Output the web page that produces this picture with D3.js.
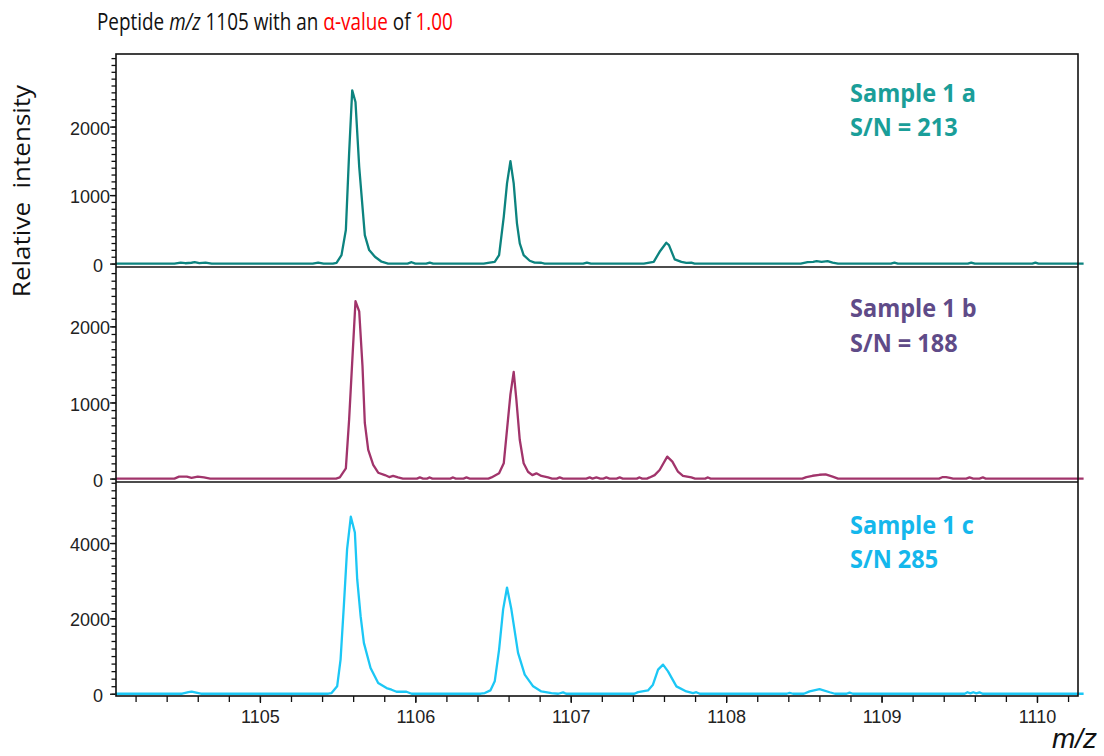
<!DOCTYPE html>
<html><head><meta charset="utf-8">
<script src="https://cdn.jsdelivr.net/npm/d3@7"></script>
<style>body{margin:0;background:#fff} svg{display:block}</style>
</head><body>
<svg id="c" width="1104" height="756"></svg>
<script>
// ---------- data ----------
const sampleNames = ["Sample 1 a", "Sample 1 b", "Sample 1 c"];
const snLabels = ["S/N = 213", "S/N = 188", "S/N 285"];
const xDomain = [1104.074, 1110.264];
const xMajorTicks = [1105, 1106, 1107, 1108, 1109, 1110];
const yDomainA = [-50, 3060];
const yDomainB = [-45, 2780];
const yDomainC = [-60, 5620];
const yMajorA = [0, 1000, 2000];
const yMajorB = [0, 1000, 2000];
const yMajorC = [0, 2000, 4000];

const spectrumA = [
[1104.07,0],[1104.45,0],[1104.49,15],[1104.52,5],[1104.56,12],[1104.58,20],[1104.61,8],[1104.65,15],[1104.69,0],
[1105.34,0],[1105.375,15],[1105.41,0],
[1105.47,0],[1105.493,10],[1105.525,124],[1105.553,490],[1105.574,1610],[1105.594,2530],[1105.615,2360],[1105.639,1410],[1105.675,415],[1105.703,197],[1105.740,100],[1105.783,27],[1105.825,0],
[1105.95,0],[1105.976,20],[1106.0,0],[1106.07,0],[1106.093,15],[1106.115,0],
[1106.44,0],[1106.468,10],[1106.511,25],[1106.539,124],[1106.569,683],[1106.590,1170],[1106.612,1496],[1106.633,1170],[1106.654,587],[1106.672,295],[1106.697,124],[1106.736,41],[1106.768,15],[1106.811,12],[1106.832,0],
[1107.08,0],[1107.104,15],[1107.13,0],
[1107.47,0],[1107.497,10],[1107.534,25],[1107.572,172],[1107.615,304],[1107.632,270],[1107.669,61],[1107.712,25],[1107.744,10],[1107.776,15],[1107.797,0],
[1108.48,0],[1108.524,20],[1108.56,25],[1108.582,35],[1108.614,25],[1108.653,35],[1108.685,15],[1108.72,0],
[1109.06,0],[1109.083,15],[1109.105,0],
[1109.555,0],[1109.577,15],[1109.6,0],
[1109.97,0],[1109.99,15],[1110.01,0],[1110.3,0]
];
const spectrumB = [
[1104.07,0],[1104.45,0],[1104.48,25],[1104.53,25],[1104.56,10],[1104.6,25],[1104.64,15],[1104.68,0],
[1105.49,0],[1105.514,15],[1105.553,135],[1105.574,775],[1105.596,1613],[1105.615,2330],[1105.639,2196],[1105.660,1481],[1105.675,731],[1105.697,377],[1105.729,179],[1105.761,77],[1105.804,46],[1105.832,20],[1105.857,35],[1105.889,15],[1105.92,0],
[1106.01,0],[1106.029,15],[1106.05,0],[1106.075,0],[1106.093,15],[1106.11,0],[1106.225,0],[1106.243,15],[1106.26,0],[1106.31,0],[1106.329,15],[1106.35,0],
[1106.47,0],[1106.490,15],[1106.539,69],[1106.569,201],[1106.590,642],[1106.612,1106],[1106.633,1401],[1106.650,1040],[1106.672,510],[1106.697,201],[1106.725,90],[1106.753,46],[1106.779,69],[1106.811,35],[1106.854,15],[1106.88,0],
[1106.91,0],[1106.929,15],[1106.95,0],[1107.1,0],[1107.122,15],[1107.14,0],[1107.165,15],[1107.19,0],[1107.21,0],[1107.229,15],[1107.25,0],[1107.295,0],[1107.315,15],[1107.335,0],[1107.425,0],[1107.443,15],[1107.46,0],
[1107.49,0],[1107.508,15],[1107.540,45],[1107.572,113],[1107.621,289],[1107.654,223],[1107.690,90],[1107.722,35],[1107.776,15],[1107.80,0],[1107.865,0],[1107.883,15],[1107.9,0],
[1108.49,0],[1108.516,20],[1108.556,37],[1108.60,50],[1108.640,55],[1108.685,25],[1108.72,0],
[1109.37,0],[1109.39,18],[1109.415,20],[1109.44,10],[1109.46,0],
[1109.545,0],[1109.566,15],[1109.59,0],[1109.63,0],[1109.652,15],[1109.67,0],[1110.3,0]
];
const spectrumC = [
[1104.07,0],[1104.5,0],[1104.54,40],[1104.561,55],[1104.59,30],[1104.62,0],
[1105.44,0],[1105.461,18],[1105.497,196],[1105.519,907],[1105.540,2330],[1105.561,3840],[1105.585,4700],[1105.611,4280],[1105.626,3040],[1105.648,2060],[1105.669,1350],[1105.712,685],[1105.761,285],[1105.815,151],[1105.847,107],[1105.879,53],[1105.943,53],[1105.976,0],
[1106.42,0],[1106.447,18],[1106.483,89],[1106.511,330],[1106.539,1173],[1106.565,2240],[1106.590,2818],[1106.618,2240],[1106.661,1084],[1106.704,507],[1106.758,196],[1106.811,62],[1106.876,18],[1106.92,0],[1106.951,36],[1106.97,0],
[1107.41,0],[1107.433,44],[1107.497,89],[1107.529,240],[1107.562,640],[1107.594,773],[1107.626,595],[1107.680,196],[1107.744,62],[1107.787,18],[1107.808,40],[1107.83,0],
[1108.39,0],[1108.408,25],[1108.43,0],
[1108.5,0],[1108.537,62],[1108.601,124],[1108.666,40],[1108.7,0],
[1108.775,0],[1108.794,30],[1108.815,0],
[1109.535,0],[1109.553,40],[1109.572,10],[1109.59,40],[1109.61,10],[1109.63,35],[1109.65,0],[1110.3,0]
];

// ---------- layout ----------
const svg = d3.select("#c");
const plotLeft = 116, plotRight = 1078;
const panelTops = [54, 267, 482], panelBottoms = [267, 482, 696];
const traceColors = ["#0c837f", "#a1346b", "#1cc7f5"];
const labelColors = ["#1a9e99", "#5f4b88", "#14b7ec"];
const labelBaselines = [[102, 136], [317, 352], [534, 568]];

const x = d3.scaleLinear().domain(xDomain).range([plotLeft, plotRight]);

const panels = [
  {data: spectrumA, dom: yDomainA, major: yMajorA, minor: d3.range(0, 3001, 100)},
  {data: spectrumB, dom: yDomainB, major: yMajorB, minor: d3.range(0, 2701, 100)},
  {data: spectrumC, dom: yDomainC, major: yMajorC, minor: d3.range(0, 5601, 200)}
];

const tickFont = "'Liberation Sans', Arial, sans-serif";
const textFont = "'Open Sans', 'Noto Sans', sans-serif";

panels.forEach((p, i) => {
  const y = d3.scaleLinear().domain(p.dom).range([panelBottoms[i], panelTops[i]]);
  const g = svg.append("g");
  const minorAx = g.append("g").attr("transform", `translate(${plotLeft},0)`)
    .call(d3.axisLeft(y).tickValues(p.minor).tickSize(4.5).tickFormat(""));
  minorAx.select(".domain").remove();
  minorAx.selectAll("line").attr("stroke", "#111").attr("stroke-width", 1.3);
  const majorAx = g.append("g").attr("transform", `translate(${plotLeft},0)`)
    .call(d3.axisLeft(y).tickValues(p.major).tickSize(6).tickPadding(0).tickFormat(d3.format("d")));
  majorAx.select(".domain").remove();
  majorAx.selectAll("line").attr("stroke", "#111").attr("stroke-width", 1.3);
  majorAx.selectAll("text").attr("font-family", tickFont).attr("font-size", 18).attr("fill", "#222")
    .attr("dy", "0.42em")
    .attr("x", d => d === 0 ? -13 : -6);

  const line = d3.line().x(d => x(d[0])).y(d => y(d[1]));
  g.append("path").datum(p.data).attr("d", line)
    .attr("fill", "none").attr("stroke", traceColors[i]).attr("stroke-width", 2.3)
    .attr("stroke-linejoin", "round");
});

// frame
const frame = svg.append("g").attr("stroke", "#111").attr("stroke-width", 1.6).attr("fill", "none");
frame.append("rect").attr("x", plotLeft).attr("y", panelTops[0])
  .attr("width", plotRight - plotLeft).attr("height", panelBottoms[2] - panelTops[0]);
[panelBottoms[0], panelBottoms[1]].forEach(yy => {
  frame.append("line").attr("x1", plotLeft).attr("x2", plotRight).attr("y1", yy).attr("y2", yy);
});

// x axis
const xMinor = d3.range(1104.2, 1110.25, 0.2);
const xMinorAx = svg.append("g").attr("transform", `translate(0,${panelBottoms[2]})`)
  .call(d3.axisBottom(x).tickValues(xMinor).tickSize(6).tickFormat(""));
xMinorAx.select(".domain").remove();
xMinorAx.selectAll("line").attr("stroke", "#111").attr("stroke-width", 1.3);
const xMajorAx = svg.append("g").attr("transform", `translate(0,${panelBottoms[2]})`)
  .call(d3.axisBottom(x).tickValues(xMajorTicks).tickSize(7).tickPadding(7).tickFormat(d3.format("d")));
xMajorAx.select(".domain").remove();
xMajorAx.selectAll("line").attr("stroke", "#111").attr("stroke-width", 1.3);
xMajorAx.selectAll("text").attr("font-family", tickFont).attr("font-size", 18).attr("fill", "#222");

function fitWidth(textSel, target) {
  const w = textSel.node().getBBox().width;
  return target / w;
}

// title
const titleG = svg.append("g");
const title = titleG.append("text").attr("x", 0).attr("y", 0)
  .attr("font-family", textFont).attr("font-size", 24).attr("fill", "#111");
title.append("tspan").text("Peptide ");
title.append("tspan").attr("font-style", "italic").text("m/z");
title.append("tspan").text(" 1105 with an ");
title.append("tspan").attr("fill", "#ff0000").text("α-value");
title.append("tspan").text(" of ");
title.append("tspan").attr("fill", "#ff0000").text("1.00");
const ts = fitWidth(title, 356);
titleG.attr("transform", `translate(97,30) scale(${ts},1)`);

// y label
const ylG = svg.append("g");
const yl = ylG.append("text").attr("text-anchor", "middle")
  .attr("font-family", textFont).attr("font-size", 23).attr("fill", "#111")
  .style("white-space", "pre").text("Relative  intensity");
const ys = fitWidth(yl, 213);
ylG.attr("transform", `translate(30,191) rotate(-90) scale(${ys},1)`);

// sample labels
let ls = null;
sampleNames.forEach((name, i) => {
  const g = svg.append("g");
  const t1 = g.append("text").attr("x", 0).attr("y", 0)
    .attr("font-family", textFont).attr("font-weight", 700).attr("font-size", 25)
    .attr("fill", labelColors[i]).text(name);
  if (ls === null) ls = fitWidth(t1, 126);
  g.append("text").attr("x", 0).attr("y", labelBaselines[i][1] - labelBaselines[i][0])
    .attr("font-family", textFont).attr("font-weight", 700).attr("font-size", 25)
    .attr("fill", labelColors[i]).text(snLabels[i]);
  g.attr("transform", `translate(850,${labelBaselines[i][0]}) scale(${ls},1)`);
});

// x label
svg.append("text").attr("x", 1097).attr("y", 748).attr("text-anchor", "end")
  .attr("font-family", tickFont).attr("font-style", "italic").attr("font-size", 28)
  .attr("fill", "#111").text("m/z");
</script>
</body></html>
